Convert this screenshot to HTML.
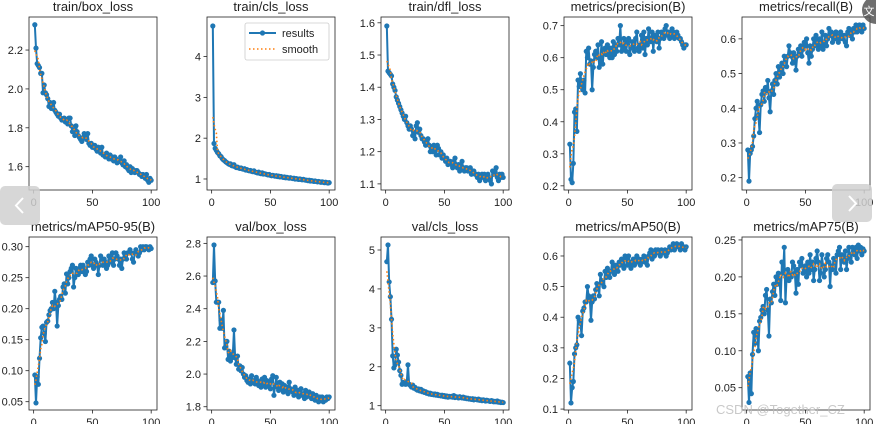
<!DOCTYPE html>
<html><head><meta charset="utf-8"><style>
html,body{margin:0;padding:0;background:#fff;}
svg{display:block;font-family:"Liberation Sans","DejaVu Sans",sans-serif;}
</style></head><body>
<svg id="fig" width="876" height="424" viewBox="0 0 876 424" xmlns="http://www.w3.org/2000/svg"></svg>
<script>
const titles = ["train/box_loss","train/cls_loss","train/dfl_loss","metrics/precision(B)","metrics/recall(B)","metrics/mAP50-95(B)","val/box_loss","val/cls_loss","metrics/mAP50(B)","metrics/mAP75(B)"];
const xTicks = [0,50,100];
const yTicks0 = [1.6,1.8,2.0,2.2];
const yTicks1 = [1,2,3,4];
const yTicks2 = [1.1,1.2,1.3,1.4,1.5,1.6];
const yTicks3 = [0.2,0.3,0.4,0.5,0.6,0.7];
const yTicks4 = [0.2,0.3,0.4,0.5,0.6];
const yTicks5 = [0.05,0.10,0.15,0.20,0.25,0.30];
const yTicks6 = [1.8,2.0,2.2,2.4,2.6,2.8];
const yTicks7 = [1,2,3,4,5];
const yTicks8 = [0.1,0.2,0.3,0.4,0.5,0.6];
const yTicks9 = [0.05,0.10,0.15,0.20,0.25];
const yDomains = [[1.48,2.37],[0.73,4.97],[1.081,1.618],[0.187,0.727],[0.1645,0.663],[0.0366,0.3156],[1.78,2.839],[0.889,5.334],[0.097,0.662],[0.0198,0.254]];
const s0 = [2.33,2.21,2.13,2.12,2.11,2.08,2.08,1.98,2.02,1.98,1.97,1.95,1.91,1.93,1.90,1.91,1.93,1.89,1.88,1.87,1.86,1.87,1.85,1.84,1.84,1.85,1.83,1.84,1.82,1.85,1.85,1.81,1.78,1.79,1.76,1.81,1.78,1.76,1.75,1.74,1.73,1.75,1.77,1.76,1.74,1.77,1.72,1.71,1.72,1.70,1.70,1.71,1.69,1.68,1.70,1.69,1.67,1.70,1.66,1.66,1.65,1.67,1.66,1.64,1.66,1.64,1.65,1.63,1.65,1.64,1.62,1.63,1.63,1.65,1.62,1.61,1.63,1.60,1.61,1.59,1.58,1.60,1.57,1.59,1.58,1.57,1.58,1.58,1.57,1.56,1.56,1.55,1.56,1.55,1.54,1.56,1.53,1.52,1.54,1.53];
const s1 = [4.75,1.87,1.75,1.70,1.65,1.62,1.57,1.55,1.50,1.47,1.45,1.42,1.40,1.38,1.36,1.37,1.33,1.32,1.35,1.30,1.28,1.29,1.27,1.26,1.27,1.25,1.24,1.25,1.22,1.23,1.21,1.20,1.21,1.19,1.18,1.20,1.17,1.16,1.15,1.17,1.14,1.13,1.15,1.12,1.13,1.12,1.11,1.10,1.11,1.09,1.08,1.09,1.08,1.07,1.08,1.06,1.07,1.05,1.06,1.05,1.04,1.05,1.03,1.04,1.03,1.02,1.03,1.02,1.01,1.02,1.00,1.01,1.00,0.99,1.00,0.99,0.98,0.99,0.98,0.97,0.97,0.96,0.97,0.95,0.96,0.95,0.94,0.95,0.94,0.93,0.94,0.93,0.92,0.93,0.92,0.91,0.92,0.91,0.90,0.91];
const s2 = [1.59,1.45,1.445,1.44,1.435,1.41,1.40,1.39,1.37,1.36,1.35,1.34,1.33,1.32,1.31,1.30,1.31,1.29,1.28,1.27,1.28,1.27,1.25,1.26,1.24,1.28,1.29,1.26,1.27,1.25,1.24,1.24,1.23,1.22,1.23,1.24,1.22,1.20,1.21,1.20,1.22,1.21,1.19,1.22,1.21,1.19,1.20,1.18,1.19,1.18,1.17,1.18,1.16,1.17,1.17,1.16,1.15,1.17,1.18,1.16,1.15,1.16,1.14,1.15,1.17,1.15,1.14,1.15,1.15,1.14,1.14,1.15,1.13,1.14,1.14,1.13,1.13,1.12,1.13,1.11,1.12,1.13,1.12,1.13,1.11,1.12,1.13,1.12,1.11,1.10,1.14,1.13,1.14,1.15,1.12,1.11,1.13,1.12,1.13,1.12];
const s3 = [0.33,0.22,0.21,0.27,0.43,0.44,0.37,0.53,0.51,0.55,0.52,0.50,0.53,0.49,0.62,0.60,0.63,0.58,0.59,0.50,0.57,0.61,0.62,0.60,0.64,0.57,0.59,0.65,0.58,0.62,0.63,0.61,0.64,0.62,0.60,0.63,0.60,0.65,0.61,0.64,0.62,0.66,0.64,0.70,0.62,0.63,0.66,0.64,0.62,0.65,0.66,0.61,0.63,0.65,0.64,0.62,0.66,0.68,0.63,0.62,0.64,0.67,0.63,0.68,0.61,0.66,0.64,0.69,0.66,0.65,0.68,0.62,0.67,0.66,0.65,0.68,0.63,0.66,0.68,0.67,0.66,0.69,0.70,0.67,0.68,0.66,0.67,0.69,0.68,0.66,0.67,0.68,0.67,0.66,0.66,0.65,0.64,0.63,0.64,0.64];
const s4 = [0.28,0.19,0.27,0.28,0.29,0.32,0.37,0.40,0.42,0.38,0.33,0.41,0.44,0.45,0.42,0.46,0.45,0.48,0.43,0.39,0.45,0.47,0.44,0.48,0.50,0.47,0.52,0.49,0.51,0.53,0.50,0.55,0.54,0.52,0.55,0.58,0.56,0.55,0.53,0.56,0.54,0.51,0.55,0.57,0.56,0.58,0.55,0.57,0.59,0.58,0.60,0.56,0.53,0.58,0.55,0.57,0.60,0.58,0.61,0.59,0.57,0.60,0.58,0.62,0.57,0.59,0.61,0.58,0.60,0.63,0.61,0.62,0.59,0.61,0.60,0.62,0.61,0.59,0.60,0.62,0.61,0.60,0.61,0.59,0.58,0.62,0.63,0.61,0.62,0.60,0.63,0.62,0.64,0.62,0.63,0.64,0.63,0.62,0.64,0.63];
const s5 = [0.093,0.048,0.09,0.078,0.12,0.153,0.17,0.172,0.16,0.147,0.178,0.18,0.19,0.197,0.20,0.21,0.20,0.228,0.21,0.172,0.205,0.215,0.22,0.215,0.235,0.24,0.225,0.256,0.24,0.25,0.26,0.265,0.27,0.235,0.25,0.265,0.26,0.255,0.265,0.27,0.26,0.27,0.265,0.255,0.26,0.275,0.27,0.28,0.285,0.27,0.265,0.28,0.275,0.27,0.255,0.27,0.285,0.28,0.27,0.28,0.275,0.265,0.27,0.285,0.28,0.275,0.29,0.27,0.28,0.29,0.285,0.28,0.27,0.28,0.265,0.28,0.29,0.285,0.28,0.29,0.29,0.295,0.29,0.28,0.275,0.29,0.295,0.29,0.285,0.29,0.30,0.295,0.30,0.295,0.30,0.30,0.298,0.295,0.30,0.297];
const s6 = [2.56,2.79,2.57,2.44,2.44,2.44,2.28,2.33,2.28,2.39,2.16,2.17,2.20,2.09,2.14,2.08,2.10,2.12,2.27,2.10,2.06,2.11,2.03,2.05,2.02,2.04,2.00,1.98,1.99,1.96,1.95,1.97,1.94,1.99,1.95,1.96,1.94,1.98,1.96,1.93,1.95,1.92,1.97,1.94,1.98,1.92,1.96,1.93,1.95,1.91,1.97,1.99,1.87,1.93,1.98,1.92,1.90,1.95,1.91,1.94,1.89,1.93,1.90,1.92,1.88,1.95,1.91,1.90,1.89,1.87,1.92,1.88,1.90,1.86,1.89,1.91,1.87,1.88,1.85,1.90,1.86,1.88,1.89,1.87,1.85,1.88,1.86,1.84,1.87,1.85,1.83,1.86,1.84,1.86,1.83,1.85,1.84,1.86,1.85,1.86];
const s7 = [4.7,5.13,4.18,3.8,3.22,2.28,1.97,2.05,2.45,2.3,2.12,1.9,1.78,1.55,1.6,1.58,1.55,1.62,2.05,1.55,1.52,1.48,1.53,1.45,1.47,1.42,1.40,1.43,1.38,1.42,1.36,1.38,1.34,1.36,1.32,1.33,1.30,1.32,1.29,1.30,1.28,1.30,1.27,1.29,1.26,1.27,1.25,1.27,1.24,1.26,1.23,1.25,1.22,1.24,1.23,1.24,1.22,1.26,1.21,1.23,1.22,1.20,1.23,1.21,1.20,1.22,1.19,1.20,1.18,1.19,1.17,1.18,1.16,1.18,1.15,1.17,1.16,1.15,1.17,1.14,1.15,1.13,1.15,1.14,1.12,1.14,1.13,1.12,1.11,1.13,1.12,1.10,1.11,1.10,1.12,1.09,1.10,1.08,1.09,1.08];
const s8 = [0.25,0.12,0.17,0.19,0.28,0.30,0.31,0.40,0.39,0.38,0.34,0.42,0.43,0.45,0.45,0.50,0.47,0.46,0.39,0.45,0.47,0.46,0.49,0.51,0.50,0.47,0.54,0.52,0.51,0.50,0.55,0.53,0.56,0.54,0.53,0.55,0.58,0.56,0.54,0.57,0.56,0.55,0.58,0.57,0.59,0.58,0.56,0.60,0.59,0.57,0.60,0.58,0.56,0.58,0.59,0.57,0.59,0.60,0.58,0.59,0.57,0.58,0.59,0.60,0.58,0.59,0.57,0.60,0.61,0.62,0.59,0.61,0.60,0.62,0.61,0.62,0.61,0.60,0.62,0.61,0.61,0.62,0.60,0.61,0.62,0.63,0.62,0.63,0.64,0.62,0.63,0.64,0.63,0.63,0.62,0.64,0.63,0.63,0.62,0.63];
const s9 = [0.065,0.03,0.07,0.042,0.095,0.125,0.11,0.13,0.125,0.10,0.14,0.145,0.155,0.16,0.15,0.175,0.183,0.155,0.12,0.17,0.165,0.18,0.19,0.175,0.20,0.19,0.205,0.195,0.168,0.22,0.205,0.24,0.165,0.20,0.21,0.195,0.205,0.20,0.22,0.215,0.205,0.178,0.21,0.19,0.22,0.215,0.225,0.205,0.21,0.215,0.20,0.22,0.205,0.23,0.21,0.22,0.195,0.21,0.225,0.235,0.22,0.195,0.205,0.23,0.215,0.20,0.21,0.225,0.23,0.22,0.187,0.215,0.21,0.225,0.22,0.205,0.23,0.235,0.24,0.21,0.23,0.225,0.22,0.235,0.21,0.225,0.24,0.23,0.22,0.24,0.235,0.23,0.24,0.225,0.243,0.235,0.24,0.23,0.238,0.235];

const series = [s0,s1,s2,s3,s4,s5,s6,s7,s8,s9];
const yTickSets = [yTicks0,yTicks1,yTicks2,yTicks3,yTicks4,yTicks5,yTicks6,yTicks7,yTicks8,yTicks9];
const decimals = [1,0,1,1,1,2,1,0,1,2];
const colLeft = [29,207,381,564,742];
const W = 128;
const rowTop = [17,237], H = 173;
const NS = "http://www.w3.org/2000/svg";
const fig = document.getElementById('fig');
function mk(tag, attrs, parent){
  const e = document.createElementNS(NS, tag);
  for (const k in attrs) e.setAttribute(k, attrs[k]);
  (parent||fig).appendChild(e);
  return e;
}
function smooth(arr){
  const out=[], h=3;
  for(let i=0;i<arr.length;i++){
    let s=0,n=0;
    for(let j=Math.max(0,i-h);j<=Math.min(arr.length-1,i+h);j++){s+=arr[j];n++;}
    out.push(s/n);
  }
  return out;
}
for (let p=0;p<10;p++){
  const data = series[p];
  const L = colLeft[p%5], T = rowTop[Math.floor(p/5)];
  const xd=[-3.95,104.95], yd=yDomains[p];
  const xs = v => L + (v-xd[0])/(xd[1]-xd[0])*W;
  const ys = v => T + H - (v-yd[0])/(yd[1]-yd[0])*H;
  const g = mk('g',{});
  
  
  const t = mk('text',{x:L+W/2,y:T-6,'text-anchor':'middle','font-size':'13',fill:'#222'},g);
  t.textContent = titles[p];
  
  
  // x ticks
  xTicks.forEach(v=>{
    const x=xs(v);
    mk('line',{x1:x,x2:x,y1:T+H,y2:T+H+3.5,stroke:'#222','stroke-width':0.8},g);
    const tl=mk('text',{x:x,y:T+H+16,'text-anchor':'middle','font-size':'11',fill:'#222'},g);
    tl.textContent=v;
    
    
  });
  yTickSets[p].forEach(v=>{
    const y=ys(v);
    mk('line',{x1:L-3.5,x2:L,y1:y,y2:y,stroke:'#222','stroke-width':0.8},g);
    const tl=mk('text',{x:L-6,y:y+4,'text-anchor':'end','font-size':'11',fill:'#222'},g);
    tl.textContent=v.toFixed(decimals[p]);
    
    
  });
  const clipId='c'+p;
  const cp=mk('clipPath',{id:clipId},g);
  mk('rect',{x:L,y:T,width:W,height:H},cp);
  const pts = data.map((v,i)=>xs(i+1).toFixed(2)+','+ys(v).toFixed(2)).join(' ');
  const line = mk('polyline',{points:pts,fill:'none',stroke:'#1f77b4','stroke-width':2,'stroke-linejoin':'round','clip-path':'url(#'+clipId+')'},g);
  
  
  data.forEach((v,i)=>{
    const c = mk('circle',{cx:xs(i+1),cy:ys(v),r:2.6,fill:'#1f77b4','clip-path':'url(#'+clipId+')'},g);
    
    
  });
  const sm = smooth(data);
  const spts = sm.map((v,i)=>xs(i+1).toFixed(2)+','+ys(v).toFixed(2)).join(' ');
  const sl = mk('polyline',{points:spts,fill:'none',stroke:'#ff7f0e','stroke-width':1.6,'stroke-dasharray':'1.5,2.5','clip-path':'url(#'+clipId+')'},g);
  
  
  const fr = mk('rect',{x:L,y:T,width:W,height:H,fill:'none',stroke:'#222','stroke-width':0.8},g);
  
  
  if(p===1){
    const lg = mk('g',{},g);
    
    
    mk('rect',{x:245,y:23,width:84,height:37,rx:2,fill:'#fff','fill-opacity':0.85,stroke:'#ccc','stroke-width':0.8},lg);
    mk('line',{x1:249,x2:276,y1:33,y2:33,stroke:'#1f77b4','stroke-width':2},lg);
    mk('circle',{cx:262.5,cy:33,r:2.6,fill:'#1f77b4'},lg);
    const l1=mk('text',{x:282,y:37,'font-size':'11',fill:'#222'},lg); l1.textContent='results';
    
    
    mk('line',{x1:249,x2:276,y1:49,y2:49,stroke:'#ff7f0e','stroke-width':1.6,'stroke-dasharray':'1.5,2.5'},lg);
    const l2=mk('text',{x:282,y:53,'font-size':'11',fill:'#222'},lg); l2.textContent='smooth';
    
    
  }
}
// overlay UI
const prev = mk('g',{});


mk('rect',{x:0,y:186,width:40,height:39,rx:5,fill:'#d0d0d0','fill-opacity':0.85},prev);
mk('polyline',{points:'23,198 16,205.5 23,213',fill:'none',stroke:'#fff','stroke-width':2},prev);
const next = mk('g',{});


mk('rect',{x:832,y:184,width:40,height:38,rx:5,fill:'#d0d0d0','fill-opacity':0.85},next);
mk('polyline',{points:'849,196 856,203.5 849,211',fill:'none',stroke:'#fff','stroke-width':2},next);
const corner = mk('g',{});


mk('circle',{cx:876,cy:10,r:14,fill:'#555','fill-opacity':0.85},corner);
const ct=mk('text',{x:869,y:15,'font-size':'11',fill:'#fff','text-anchor':'middle'},corner); ct.textContent='文';
const wm = mk('text',{x:716,y:414,'font-size':'13',fill:'#bbb','fill-opacity':0.8});
wm.textContent='CSDN @Together_CZ';


</script>
</body></html>
